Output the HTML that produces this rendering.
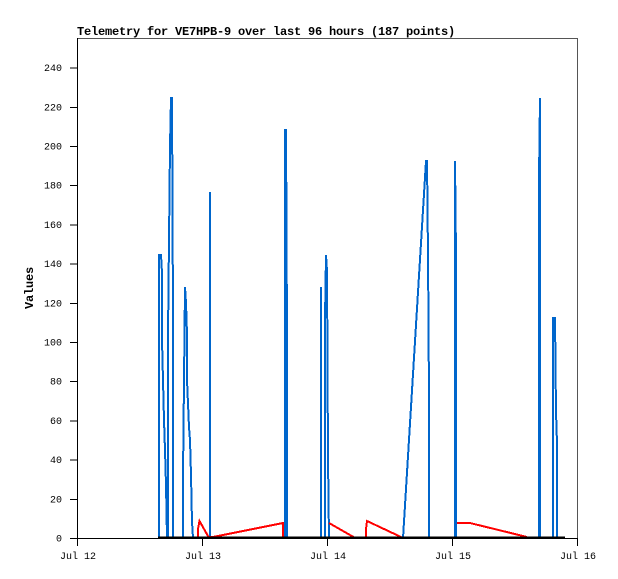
<!DOCTYPE html>
<html><head><meta charset="utf-8"><style>
html,body{margin:0;padding:0;background:#fff;}
svg{display:block;}
text{font-family:"Liberation Mono","DejaVu Sans Mono",monospace;}
</style></head><body>
<svg width="618" height="579" viewBox="0 0 618 579" xmlns="http://www.w3.org/2000/svg">
<rect width="618" height="579" fill="#fff"/>
<text x="77" y="35" font-size="12" font-weight="bold" letter-spacing="-0.2" fill="#000">Telemetry for VE7HPB-9 over last 96 hours (187 points)</text>
<g shape-rendering="crispEdges">
<line x1="77" y1="38.5" x2="577.5" y2="38.5" stroke="#555" stroke-width="1"/>
<line x1="577.5" y1="38" x2="577.5" y2="545" stroke="#555" stroke-width="1"/>
<line x1="77.5" y1="38" x2="77.5" y2="545" stroke="#000" stroke-width="1"/>
<line x1="77" y1="538.5" x2="578" y2="538.5" stroke="#000" stroke-width="1"/>
<!-- y ticks -->
<g stroke="#000" stroke-width="1">
<line x1="70" y1="538.5" x2="77" y2="538.5"/>
<line x1="70" y1="499.3" x2="77" y2="499.3"/>
<line x1="70" y1="460.1" x2="77" y2="460.1"/>
<line x1="70" y1="420.9" x2="77" y2="420.9"/>
<line x1="70" y1="381.7" x2="77" y2="381.7"/>
<line x1="70" y1="342.5" x2="77" y2="342.5"/>
<line x1="70" y1="303.3" x2="77" y2="303.3"/>
<line x1="70" y1="264.1" x2="77" y2="264.1"/>
<line x1="70" y1="224.9" x2="77" y2="224.9"/>
<line x1="70" y1="185.7" x2="77" y2="185.7"/>
<line x1="70" y1="146.5" x2="77" y2="146.5"/>
<line x1="70" y1="107.3" x2="77" y2="107.3"/>
<line x1="70" y1="68.1" x2="77" y2="68.1"/>
<!-- x ticks -->
<line x1="77.5" y1="538" x2="77.5" y2="546"/>
<line x1="202.5" y1="538" x2="202.5" y2="546"/>
<line x1="327.5" y1="538" x2="327.5" y2="546"/>
<line x1="452.5" y1="538" x2="452.5" y2="546"/>
<line x1="577.5" y1="538" x2="577.5" y2="546"/>
</g>
</g>
<g font-size="10" fill="#000" text-anchor="end">
<text x="62" y="541.5">0</text>
<text x="62" y="502.3">20</text>
<text x="62" y="463.1">40</text>
<text x="62" y="423.9">60</text>
<text x="62" y="384.7">80</text>
<text x="62" y="345.5">100</text>
<text x="62" y="306.3">120</text>
<text x="62" y="267.1">140</text>
<text x="62" y="227.9">160</text>
<text x="62" y="188.7">180</text>
<text x="62" y="149.5">200</text>
<text x="62" y="110.3">220</text>
<text x="62" y="71.1">240</text>
</g>
<g font-size="10" fill="#000" text-anchor="middle">
<text x="78" y="559">Jul 12</text>
<text x="203" y="559">Jul 13</text>
<text x="328" y="559">Jul 14</text>
<text x="453" y="559">Jul 15</text>
<text x="578" y="559">Jul 16</text>
</g>
<text x="0" y="0" font-size="12" font-weight="bold" letter-spacing="-0.2" fill="#000" text-anchor="middle" transform="translate(33,288) rotate(-90)">Values</text>

<!-- blue series -->
<g fill="none" stroke="#0066cc" stroke-width="2" stroke-linejoin="miter" shape-rendering="crispEdges">
<polyline points="159,538 159,255 161,255 162,273 162,310 162,340 163,380 164,420 165,450 166,485 167,538"/>
<polyline points="168,538 168,334 169,240 170,146 171,98 172,98 173,318 173,538"/>
<polyline points="183,538 183,475 185,287 186,303 187,334 187,380 189,427 190,440 191,475 192,522 193,538"/>
<polyline points="210,538 210,192 210,538"/>
<polyline points="285,538 285,130 286,130 287,334 287,538"/>
<polyline points="321,538 321,287 321,538"/>
<polyline points="325,538 325,318 326,255 327,271 328,459 329,538"/>
<polyline points="403,538 426,161 427,161 428,255 429,396 429,538"/>
<polyline points="455,538 455,161 456,255 456,538"/>
<polyline points="539,538 539,177 540,98 540,538"/>
<polyline points="553,538 553,318 555,318 556,412 557,443 557,538"/>
</g>
<!-- red series -->
<g fill="none" stroke="#ff0000" stroke-width="2" shape-rendering="crispEdges">
<polyline points="198,537 198,529 199.5,521 208.5,537 213,537 283,523 283,537"/>
<polyline points="329,523 353.5,537"/>
<polyline points="366,537 366,529 367,521 401,537"/>
<polyline points="457,523 470,523 527,537"/>
</g>
<!-- black series at 0 -->
<line x1="158" y1="537.5" x2="565" y2="537.5" stroke="#000" stroke-width="2" shape-rendering="crispEdges"/>
</svg>
</body></html>
